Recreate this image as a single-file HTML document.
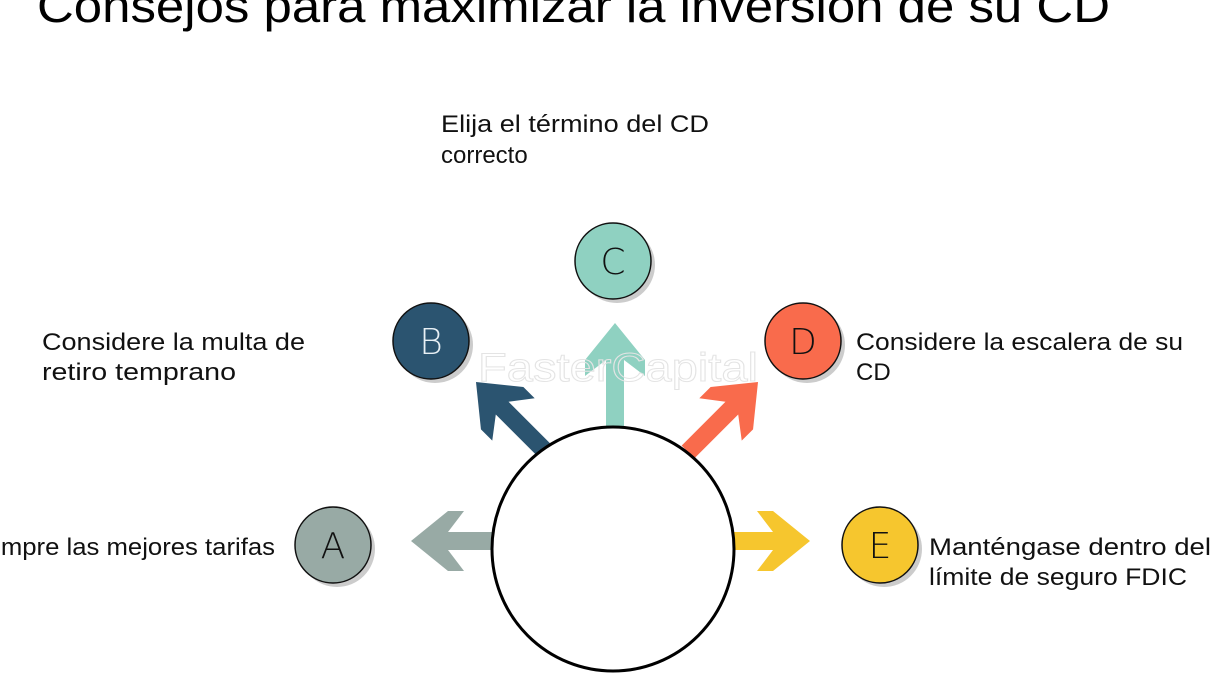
<!DOCTYPE html>
<html><head><meta charset="utf-8"><style>
html,body{margin:0;padding:0;background:#fff;width:1215px;height:692px;overflow:hidden}
svg{display:block}
.t{font-family:"Liberation Sans",sans-serif;font-size:24px;fill:#111}
</style></head><body>
<svg width="1215" height="692" viewBox="0 0 1215 692" xmlns="http://www.w3.org/2000/svg">
<text x="37" y="22" font-family="Liberation Sans, sans-serif" font-size="46" fill="#000" textLength="1073" lengthAdjust="spacingAndGlyphs">Consejos para maximizar la inversión de su CD</text>

<g fill="#98aaa5" transform="translate(492,541) rotate(180)">
<path d="M0,-9 L44,-9 L28,-30 L44,-30 L81,0 L44,30 L28,30 L44,9 L0,9Z"/></g>
<g fill="#f6c62e" transform="translate(733,541)">
<path d="M0,-9 L40,-9 L24,-30 L40,-30 L77,0 L40,30 L24,30 L40,9 L0,9Z"/></g>
<g fill="#8fd1c1" transform="translate(615,428) rotate(-90)">
<path d="M0,-9 L68,-9 L52,-30 L68,-30 L105,0 L68,30 L52,30 L68,9 L0,9Z"/></g>
<g fill="#2b5470" transform="translate(546,452) rotate(-135)">
<path d="M0,-9 L62,-9 L46,-30 L62,-30 L99,0 L62,30 L46,30 L62,9 L0,9Z"/></g>
<g fill="#f96b4c" transform="translate(688,452) rotate(-45)">
<path d="M0,-9 L62,-9 L46,-30 L62,-30 L99,0 L62,30 L46,30 L62,9 L0,9Z"/></g>

<ellipse cx="613" cy="549" rx="121" ry="122" fill="#fff" stroke="#000" stroke-width="3"/>

<g stroke="#111" stroke-width="1.5">
<circle cx="337" cy="549" r="38" fill="#ccc" stroke="none"/>
<circle cx="333" cy="545" r="38" fill="#98aaa5"/>
<circle cx="435" cy="345" r="38" fill="#ccc" stroke="none"/>
<circle cx="431" cy="341" r="38" fill="#2b5470"/>
<circle cx="617" cy="265" r="38" fill="#ccc" stroke="none"/>
<circle cx="613" cy="261" r="38" fill="#8fd1c1"/>
<circle cx="807" cy="345" r="38" fill="#ccc" stroke="none"/>
<circle cx="803" cy="341" r="38" fill="#f96b4c"/>
<circle cx="884" cy="549" r="38" fill="#ccc" stroke="none"/>
<circle cx="880" cy="545" r="38" fill="#f6c62e"/>
</g>
<g font-family="DejaVu Sans, sans-serif" font-size="36" font-weight="200" text-anchor="middle">
<text x="333" y="558" fill="#111">A</text>
<text x="431" y="354" fill="#e8f0f5">B</text>
<text x="613" y="274" fill="#111">C</text>
<text x="803" y="354" fill="#111">D</text>
<text x="880" y="558" fill="#111">E</text>
</g>

<text x="478" y="381" font-family="Liberation Sans, sans-serif" font-size="40" fill="none" stroke="#e4e4e4" stroke-width="1" textLength="280" lengthAdjust="spacingAndGlyphs">FasterCapital</text>

<g class="t">
<text x="441" y="132" textLength="268" lengthAdjust="spacingAndGlyphs">Elija el término del CD</text>
<text x="441" y="163">correcto</text>
<text x="42" y="350" textLength="263" lengthAdjust="spacingAndGlyphs">Considere la multa de</text>
<text x="42" y="380" textLength="194" lengthAdjust="spacingAndGlyphs">retiro temprano</text>
<text x="856" y="350" textLength="327" lengthAdjust="spacingAndGlyphs">Considere la escalera de su</text>
<text x="856" y="380">CD</text>
<text x="-32" y="555" textLength="307" lengthAdjust="spacingAndGlyphs">Compre las mejores tarifas</text>
<text x="929" y="555" textLength="282" lengthAdjust="spacingAndGlyphs">Manténgase dentro del</text>
<text x="929" y="585" textLength="258" lengthAdjust="spacingAndGlyphs">límite de seguro FDIC</text>
</g>
</svg>
</body></html>
